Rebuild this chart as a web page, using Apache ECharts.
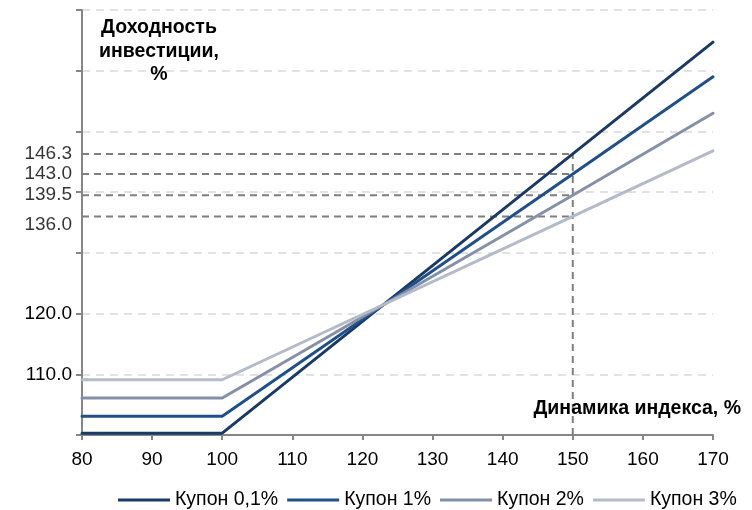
<!DOCTYPE html>
<html>
<head>
<meta charset="utf-8">
<script src="https://cdn.jsdelivr.net/npm/echarts@6/dist/echarts.min.js"></script>
<style>
  html, body { margin: 0; padding: 0; background: #fff; }
  #chart { width: 752px; height: 510px; }
</style>
</head>
<body>
<div id="chart"></div>
<script>
// Index performance (x) and investment return (y) for four coupon levels
const indexPoints = [80, 100, 150, 170];
const coupon01 = [100.3, 100.3, 146.3, 164.7];
const coupon1  = [103.1, 103.1, 143.0, 159.0];
const coupon2  = [106.1, 106.1, 139.5, 153.0];
const coupon3  = [109.1, 109.1, 136.0, 146.8];
const seriesNames = ['Купон 0,1%', 'Купон 1%', 'Купон 2%', 'Купон 3%'];
const yTickLabels = [110, 120];
const markIndex = 150; // index level highlighted with guide lines

const FONT = '"Liberation Sans", Arial, sans-serif';
const colors = ['#1a3a66', '#20508a', '#8490a7', '#b3bac8'];
const allSeries = [coupon01, coupon1, coupon2, coupon3];

const toPairs = arr => indexPoints.map((x, i) => [x, arr[i]]);
const markPos = indexPoints.indexOf(markIndex);
const markValues = allSeries.map(s => s[markPos]);

const chart = echarts.init(document.getElementById('chart'), null, { renderer: 'canvas' });

const lineSeries = allSeries.map((s, i) => ({
  name: seriesNames[i],
  type: 'line',
  data: toPairs(s),
  symbol: 'none',
  z: 5,
  lineStyle: { color: colors[i], width: 3, cap: 'round', join: 'round' },
  itemStyle: { color: colors[i] }
}));

// Horizontal guides from the y axis to the marked index level
const guideStyle = { color: '#7f7f7f', width: 2, type: [7, 5] };
const guideSeries = markValues.map(v => ({
  type: 'line',
  silent: true,
  symbol: 'none',
  z: 3,
  data: [[80, v], [markIndex, v]],
  lineStyle: guideStyle
}));
// Vertical guide at the marked index level
guideSeries.push({
  type: 'line',
  silent: true,
  symbol: 'none',
  z: 3,
  data: [[markIndex, 100], [markIndex, Math.max(...markValues)]],
  lineStyle: guideStyle
});

// Value labels for the guide levels, placed on the y axis
const labelOffsets = [[0, 0], [0, 0], [0, 0], [0, 8]];
const guideLabels = {
  type: 'scatter',
  silent: true,
  symbolSize: 0,
  z: 6,
  data: markValues.map((v, i) => ({
    value: [80, v],
    label: {
      show: true,
      position: 'left',
      distance: 10,
      offset: labelOffsets[i],
      formatter: v.toFixed(1),
      fontFamily: FONT,
      fontSize: 19,
      color: '#000'
    }
  }))
};

chart.setOption({
  animation: false,
  backgroundColor: '#fff',
  grid: { left: 82, right: 39, top: 10, bottom: 75, containLabel: false },
  legend: {
    data: seriesNames,
    top: 485,
    left: 113,
    icon: 'rect',
    itemWidth: 52,
    itemHeight: 3,
    itemGap: 9,
    textStyle: { fontFamily: FONT, fontSize: 19.5, color: '#000' }
  },
  xAxis: {
    type: 'value',
    min: 80,
    max: 170,
    interval: 10,
    axisLine: { lineStyle: { color: '#868686', width: 2 } },
    axisTick: { show: true, length: 5, lineStyle: { color: '#868686', width: 2 } },
    axisLabel: { margin: 15, fontFamily: FONT, fontSize: 19, color: '#000' },
    splitLine: { show: false }
  },
  yAxis: {
    type: 'value',
    min: 100,
    max: 170,
    interval: 10,
    axisLine: { show: true, lineStyle: { color: '#868686', width: 2 } },
    axisTick: { show: true, length: 6, lineStyle: { color: '#868686', width: 2 } },
    axisLabel: {
      margin: 10,
      fontFamily: FONT,
      fontSize: 19,
      color: '#000',
      formatter: v => (yTickLabels.includes(v) ? v.toFixed(1) : '')
    },
    splitLine: { show: true, lineStyle: { color: '#d9d9d9', width: 1.5, type: [8, 6] } }
  },
  graphic: [
    {
      type: 'text',
      x: 159,
      y: 16,
      style: {
        text: 'Доходность\nинвестиции,\n%',
        font: 'bold 19.5px ' + FONT,
        fill: '#000',
        align: 'center',
        lineHeight: 23.5
      },
      z: 10
    },
    {
      type: 'text',
      x: 741,
      y: 409,
      style: {
        text: 'Динамика индекса, %',
        font: 'bold 19.5px ' + FONT,
        fill: '#000',
        align: 'right',
        verticalAlign: 'middle'
      },
      z: 10
    }
  ],
  series: [...guideSeries, ...lineSeries, guideLabels]
});
</script>
</body>
</html>
